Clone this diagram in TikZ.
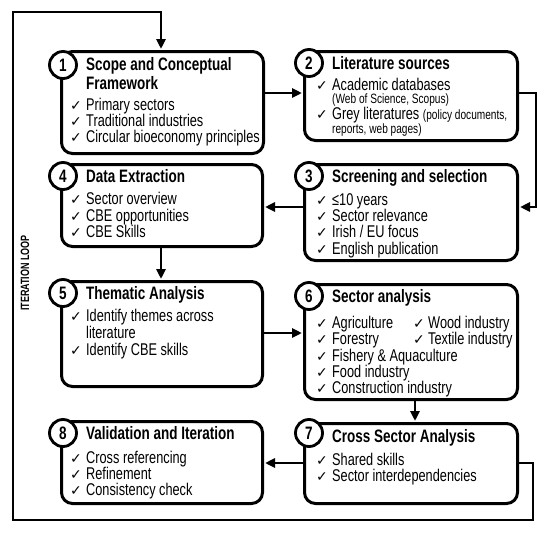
\documentclass[tikz,border=0pt]{standalone}
\usepackage{fontspec}
\setmainfont[FakeStretch=0.75]{Liberation Sans}
\newfontfamily\symf{DejaVu Sans}
\usetikzlibrary{arrows.meta}
\begin{document}
\begin{tikzpicture}[x=1pt,y=-1pt,
 box/.style={draw, line width=3pt, rounded corners=11pt, anchor=north west, inner sep=0},
 num/.style={circle, draw, line width=2.8pt, fill=white, minimum size=27pt, inner sep=0, font=\fontsize{18}{18}\selectfont\bfseries},
 ttl/.style={anchor=base west, inner sep=0, font=\fontsize{18}{18}\selectfont\bfseries},
 itm/.style={anchor=base west, inner sep=0, font=\fontsize{17}{17}\selectfont},
 sub/.style={anchor=base west, inner sep=0, font=\fontsize{13.5}{13.5}\selectfont},
 chk/.style={anchor=base west, inner sep=0, font=\fontsize{14}{14}\symf\bfseries},
 conn/.style={line width=2.6pt, -{Triangle[length=10pt,width=9pt]}, shorten >=1pt},
 ]
\useasboundingbox[fill=white] (0,0) rectangle (550,533);

% boxes
\node[box, minimum width=202pt, minimum height=102pt] (b1) at (60,50) {};
\node[box, minimum width=213pt, minimum height=89pt]  (b2) at (303,50) {};
\node[box, minimum width=213pt, minimum height=96pt]  (b3) at (303,163) {};
\node[box, minimum width=201pt, minimum height=82pt]  (b4) at (60,163) {};
\node[box, minimum width=201pt, minimum height=105pt] (b5) at (60,280) {};
\node[box, minimum width=213pt, minimum height=115pt] (b6) at (303,283) {};
\node[box, minimum width=213pt, minimum height=80pt]  (b7) at (303,422) {};
\node[box, minimum width=201pt, minimum height=82pt]  (b8) at (60,420) {};

% numbers
\node[num] (n1) at (63,65) {1};
\node[num] (n2) at (309,63) {2};
\node[num] (n3) at (309,176) {3};
\node[num] (n4) at (63,176) {4};
\node[num] (n5) at (63,293) {5};
\node[num] (n6) at (309,296) {6};
\node[num] (n7) at (309,433) {7};
\node[num] (n8) at (63,433) {8};

% box 1
\node[ttl] (t1a) at (86,70) {Scope and Conceptual};
\node[ttl] (t1b) at (86,89) {Framework};
\node[chk] (c1a) at (70,110) {✓}; \node[itm] (i1a) at (86,110) {Primary sectors};
\node[chk] (c1b) at (70,126) {✓}; \node[itm] (i1b) at (86,126) {Traditional industries};
\node[chk] (c1c) at (70,142) {✓}; \node[itm] (i1c) at (86,142) {Circular bioeconomy principles};

% box 2
\node[ttl] (t2) at (332,69) {Literature sources};
\node[chk] (c2a) at (316,90) {✓}; \node[itm] (i2a) at (332,90) {Academic databases};
\node[sub] (s2a) at (332,103.5) {(Web of Science, Scopus)};
\node[chk] (c2b) at (316,119) {✓}; \node[itm] (i2b) at (332,119) {Grey literatures {\fontsize{13.5}{13.5}\selectfont(policy documents,}};
\node[sub] (s2b) at (332,133) {reports, web pages)};

% box 3
\node[ttl] (t3) at (332,182) {Screening and selection};
\node[chk] (c3a) at (316,205) {✓}; \node[itm] (i3a) at (332,205) {≤10 years};
\node[chk] (c3b) at (316,221) {✓}; \node[itm] (i3b) at (332,221) {Sector relevance};
\node[chk] (c3c) at (316,237) {✓}; \node[itm] (i3c) at (332,237) {Irish / EU focus};
\node[chk] (c3d) at (316,254) {✓}; \node[itm] (i3d) at (332,254) {English publication};

% box 4
\node[ttl] (t4) at (86,182) {Data Extraction};
\node[chk] (c4a) at (70,204) {✓}; \node[itm] (i4a) at (86,204) {Sector overview};
\node[chk] (c4b) at (70,221) {✓}; \node[itm] (i4b) at (86,221) {CBE opportunities};
\node[chk] (c4c) at (70,237) {✓}; \node[itm] (i4c) at (86,237) {CBE Skills};

% box 5
\node[ttl] (t5) at (86,299) {Thematic Analysis};
\node[chk] (c5a) at (70,321) {✓}; \node[itm] (i5a) at (86,321) {Identify themes across};
\node[itm] (i5b) at (86,338) {literature};
\node[chk] (c5c) at (70,355) {✓}; \node[itm] (i5c) at (86,355) {Identify CBE skills};

% box 6
\node[ttl] (t6) at (332,302) {Sector analysis};
\node[chk] (c6a) at (316,328) {✓}; \node[itm] (i6a) at (332,328) {Agriculture};
\node[chk] (c6b) at (413,328) {✓}; \node[itm] (i6b) at (428,328) {Wood industry};
\node[chk] (c6c) at (316,344) {✓}; \node[itm] (i6c) at (332,344) {Forestry};
\node[chk] (c6d) at (413,344) {✓}; \node[itm] (i6d) at (428,344) {Textile industry};
\node[chk] (c6e) at (316,361) {✓}; \node[itm] (i6e) at (332,361) {Fishery \& Aquaculture};
\node[chk] (c6f) at (316,377) {✓}; \node[itm] (i6f) at (332,377) {Food industry};
\node[chk] (c6g) at (316,393) {✓}; \node[itm] (i6g) at (332,393) {Construction industry};

% box 7
\node[ttl] (t7) at (332,442) {Cross Sector Analysis};
\node[chk] (c7a) at (316,465) {✓}; \node[itm] (i7a) at (332,465) {Shared skills};
\node[chk] (c7b) at (316,481) {✓}; \node[itm] (i7b) at (332,481) {Sector interdependencies};

% box 8
\node[ttl] (t8) at (86,439) {Validation and Iteration};
\node[chk] (c8a) at (70,463) {✓}; \node[itm] (i8a) at (86,463) {Cross referencing};
\node[chk] (c8b) at (70,479) {✓}; \node[itm] (i8b) at (86,479) {Refinement};
\node[chk] (c8c) at (70,495) {✓}; \node[itm] (i8c) at (86,495) {Consistency check};

% loop label
\node[rotate=90, inner sep=0, font=\fontsize{12}{12}\selectfont\bfseries] (loop) at (25,273) {ITERATION LOOP};

% connectors
\draw[conn] (b1.east |- 0,93) -- (b2.west |- 0,93);
\draw[conn] (b2.east |- 0,93) -| (536,207) -- (b3.east |- 0,207);
\draw[conn] (b3.west |- 0,207) -- (b4.east |- 0,207);
\draw[conn] (b4.south -| 161,0) -- (b5.north -| 161,0);
\draw[conn] (b5.east |- 0,333) -- (b6.west |- 0,333);
\draw[conn] (b6.south -| 415,0) -- (b7.north -| 415,0);
\draw[conn] (b7.west |- 0,463) -- (b8.east |- 0,463);
\draw[conn] (b7.east |- 0,463) -- (533,463) -- (533,520) -- (13,520) -- (13,12) -- (161,12) -- (b1.north -| 161,0);
\end{tikzpicture}
\end{document}
